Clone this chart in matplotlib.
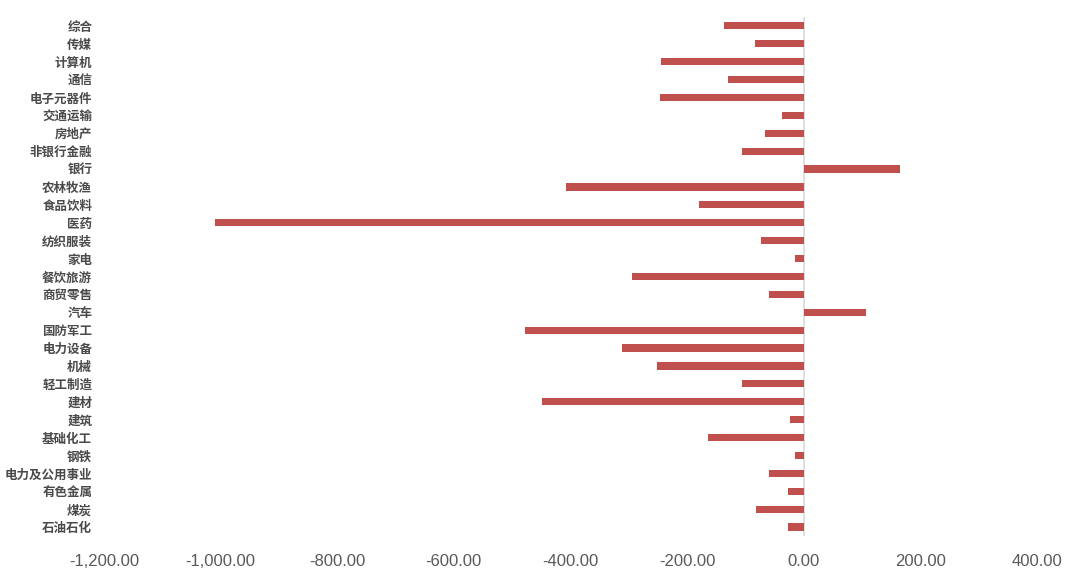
import matplotlib.pyplot as plt
import matplotlib.ticker as mticker

# --- data (bottom to top) --- #
industries = ["石油石化", "煤炭", "有色金属", "电力及公用事业", "钢铁", "基础化工",
              "建筑", "建材", "轻工制造", "机械", "电力设备", "国防军工", "汽车",
              "商贸零售", "餐饮旅游", "家电", "纺织服装", "医药", "食品饮料",
              "农林牧渔", "银行", "非银行金融", "房地产", "交通运输", "电子元器件",
              "通信", "计算机", "传媒", "综合"]
values = [-26, -82, -26, -59, -14, -164,
          -24, -449, -106, -251, -312, -478, 107,
          -60, -295, -15, -73, -1010, -179,
          -408, 166, -106, -67, -37, -246,
          -129, -245, -84, -136]
x_ticks = [-1200, -1000, -800, -600, -400, -200, 0, 200, 400]
# ---------------- #

plt.rcParams['font.family'] = ['Noto Sans CJK SC', 'DejaVu Sans']

fig = plt.figure(figsize=(10.8, 5.82), dpi=100)
ax = fig.add_axes([0.0963, 0.079, 0.8637, 0.892])

ax.barh(range(len(industries)), values, height=0.4, color="#C0504D", zorder=2)
ax.axvline(0, color="#D9D9D9", linewidth=1.2, zorder=1)

ax.set_xlim(-1200, 400)
ax.set_ylim(-0.5, len(industries) - 0.5)
ax.set_yticks(range(len(industries)))
ax.set_yticklabels(industries, fontsize=9, color="#4a4a4a", fontweight="bold")
ax.set_xticks(x_ticks)
ax.xaxis.set_major_formatter(mticker.FuncFormatter(lambda v, p: f"{v:,.2f}"))
for lbl in ax.get_xticklabels():
    lbl.set_family(['Liberation Sans Narrow', 'Liberation Sans', 'DejaVu Sans'])
    lbl.set_fontsize(12)
    lbl.set_color("#595959")

ax.tick_params(axis="both", length=0)
ax.tick_params(axis="y", pad=8.5)
ax.tick_params(axis="x", pad=13)
for s in ax.spines.values():
    s.set_visible(False)

fig.savefig("out.png", dpi=100)
